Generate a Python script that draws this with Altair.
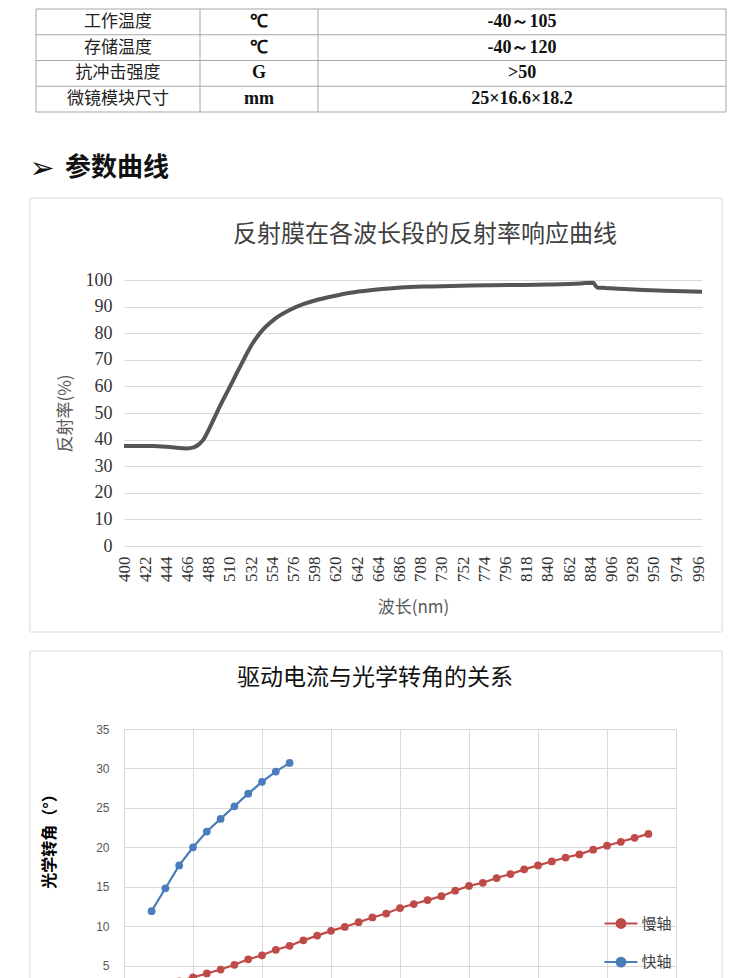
import altair as alt
import pandas as pd

# ---------------- table data ----------------
tbl_names = ["工作温度", "存储温度", "抗冲击强度", "微镜模块尺寸"]
tbl_units = ["℃", "℃", "G", "mm"]
tbl_values = ["-40～105", "-40～120", ">50", "25×16.6×18.2"]

# ---------------- reflectance curve ----------------
wavelength = [400, 430, 450, 465, 473, 478, 482, 489, 496, 503, 510, 517, 524, 532,
              541, 556, 572, 586, 600, 618, 635, 660, 687, 720, 760, 800, 840, 874,
              887, 891, 900, 929, 960, 1000]
reflectance = [37.6, 37.6, 37.1, 36.7, 37.2, 38.3, 39.8, 44.5, 49.9, 55.0, 59.9, 65.0,
               69.9, 75.3, 80.0, 85.2, 88.7, 90.9, 92.5, 94.0, 95.2, 96.3, 97.2, 97.6,
               97.9, 98.1, 98.3, 98.7, 99.0, 97.2, 97.0, 96.4, 96.0, 95.6]
wl_ticks = [400, 422, 444, 466, 488, 510, 532, 554, 576, 598, 620, 642, 664, 686, 708,
            730, 752, 774, 796, 818, 840, 862, 884, 906, 928, 950, 974, 996]

# ---------------- current vs angle ----------------
fast_x = [8, 12, 16, 20, 24, 28, 32, 36, 40, 44, 48]
fast_y = [11.9, 14.8, 17.7, 20.0, 22.0, 23.6, 25.2, 26.8, 28.3, 29.6, 30.7]
slow_x = [16, 20, 24, 28, 32, 36, 40, 44, 48, 52, 56, 60, 64, 68, 72, 76, 80, 84, 88,
          92, 96, 100, 104, 108, 112, 116, 120, 124, 128, 132, 136, 140, 144, 148, 152]
slow_y = [3.0, 3.5, 4.0, 4.5, 5.1, 5.8, 6.3, 7.0, 7.5, 8.2, 8.8, 9.4, 9.9, 10.5, 11.1,
          11.6, 12.3, 12.8, 13.3, 13.8, 14.5, 15.1, 15.5, 16.1, 16.6, 17.2, 17.7, 18.2,
          18.7, 19.1, 19.7, 20.2, 20.7, 21.2, 21.7]

CJK = "Noto Sans CJK SC"
SERIF = "Liberation Serif"
one = alt.Data(values=[{"k": 0}])

# all panels share a plot origin at page x = 124; boxes reach page x 29..727
L, R = -95, 603


def box(x1, x2, y1, y2, stroke=None):
    """frame / layout rectangle in the pixel space of a panel"""
    if stroke:
        m = alt.Chart(one).mark_rect(fill="white", fillOpacity=0, stroke=stroke, strokeWidth=1)
    else:
        m = alt.Chart(one).mark_rect(fill="white", fillOpacity=0, strokeWidth=0)
    return m.encode(x=alt.value(x1), x2=alt.value(x2), y=alt.value(y1), y2=alt.value(y2))


def label(text, x, y, **kw):
    return alt.Chart(alt.Data(values=[{"t": text}])).mark_text(**kw).encode(
        x=alt.value(x), y=alt.value(y), text="t:N")


# ---------------- panel A : table ----------------
col_edges = [0, 164, 282, 690]
col_centers = [82, 223, 486]
cells = []
for i in range(len(tbl_names)):
    cells.append({"r": i + 0.5, "c": col_centers[0], "t": tbl_names[i], "kind": "name"})
    cells.append({"r": i + 0.5, "c": col_centers[1], "t": tbl_units[i], "kind": "val"})
    cells.append({"r": i + 0.5, "c": col_centers[2], "t": tbl_values[i], "kind": "val"})
cells = pd.DataFrame(cells)
hl = pd.DataFrame({"r": list(range(len(tbl_names) + 1)), "c1": 0, "c2": 690})
vl = pd.DataFrame({"c": col_edges, "r1": 0, "r2": len(tbl_names)})

xs = alt.Scale(domain=[88, 690], nice=False, zero=False)
ys = alt.Scale(domain=[len(tbl_names), 0], nice=False, zero=False)

t_h = alt.Chart(hl).mark_rule(color="#a6a6a6", strokeWidth=1).encode(
    x=alt.X("c1:Q", scale=xs, axis=None), x2="c2:Q", y=alt.Y("r:Q", scale=ys, axis=None))
t_v = alt.Chart(vl).mark_rule(color="#a6a6a6", strokeWidth=1).encode(
    x=alt.X("c:Q", scale=xs, axis=None), y=alt.Y("r1:Q", scale=ys, axis=None), y2="r2:Q")
t_name = alt.Chart(cells).transform_filter(alt.datum.kind == "name").mark_text(
    font=CJK, fontSize=17, color="#222222", baseline="middle").encode(
    x=alt.X("c:Q", scale=xs, axis=None), y=alt.Y("r:Q", scale=ys, axis=None), text="t:N")
t_val = alt.Chart(cells).transform_filter(alt.datum.kind == "val").mark_text(
    font=SERIF, fontSize=18, fontWeight="bold", color="#111111", baseline="middle").encode(
    x=alt.X("c:Q", scale=xs, axis=None), y=alt.Y("r:Q", scale=ys, axis=None), text="t:N")
panelA = alt.layer(box(L, R, -1, 104), t_h, t_v, t_name, t_val).properties(width=602, height=103)

# ---------------- panel B : heading ----------------
arrow = label("➢", -82, 56, font="DejaVu Sans", fontSize=30, color="#111111",
              align="center", baseline="middle")
htxt = label("参数曲线", -59, 55, font=CJK, fontSize=26, fontWeight="bold", color="#111111",
             align="left", baseline="middle")
panelB = alt.layer(box(L, R, 0, 84), arrow, htxt).properties(width=602, height=84)

# ---------------- panel C : reflectance ----------------
refl_df = pd.DataFrame({"wl": wavelength, "r": reflectance})
line1 = alt.Chart(refl_df).mark_line(color="#555555", strokeWidth=4, interpolate="monotone").encode(
    x=alt.X("wl:Q", scale=alt.Scale(domain=[400, 1000], nice=False, zero=False),
            axis=alt.Axis(values=wl_ticks, format="d", labelAngle=270, labelFont=SERIF,
                          labelFontSize=17, labelColor="#333333", labelPadding=10,
                          labelOverlap=False, labelFlush=False, grid=False, domain=False,
                          ticks=False, title="波长(nm)", titleFont=CJK, titleFontSize=17,
                          titleFontWeight="normal", titleColor="#595959", titleY=61,
                          titleBaseline="middle")),
    y=alt.Y("r:Q", scale=alt.Scale(domain=[0, 100], nice=False),
            axis=alt.Axis(values=list(range(0, 101, 10)), labelFont=SERIF, labelFontSize=18,
                          labelColor="#333333", labelPadding=12, grid=True,
                          gridColor="#d9d9d9", domain=False, ticks=False,
                          title="反射率(%)", titleFont=CJK, titleFontSize=17,
                          titleFontWeight="normal", titleColor="#595959", titleX=-59,
                          titleY=133, titleAngle=270, titleAlign="center",
                          titleBaseline="middle")),
)
title1 = label("反射膜在各波长段的反射率响应曲线", 301, -45, font=CJK, fontSize=24,
               color="#404040", align="center", baseline="middle")
panelC = alt.layer(box(L, R, -83, 370), box(-94, 598, -82, 352, "#d9d9d9"), title1, line1).properties(
    width=578, height=266)

# ---------------- panel D : current vs angle ----------------
ang_df = pd.concat([
    pd.DataFrame({"i": slow_x, "a": slow_y, "s": "慢轴"}),
    pd.DataFrame({"i": fast_x, "a": fast_y, "s": "快轴"}),
])
sym = "M-1,0L1,0M-0.27,0A0.27,0.27,0,1,1,0.27,0A0.27,0.27,0,1,1,-0.27,0Z"
line2 = alt.Chart(ang_df).mark_line(strokeWidth=2.2, point=alt.OverlayMarkDef(filled=True, size=60)).encode(
    x=alt.X("i:Q", scale=alt.Scale(domain=[0, 160], nice=False),
            axis=alt.Axis(values=list(range(0, 161, 20)), grid=True, gridColor="#d9d9d9",
                          domain=False, ticks=False, labelFont="Liberation Sans",
                          labelFontSize=12, labelColor="#595959", title=None)),
    y=alt.Y("a:Q", scale=alt.Scale(domain=[0, 35], nice=False),
            axis=alt.Axis(values=list(range(0, 36, 5)), grid=True, gridColor="#d9d9d9",
                          domain=False, ticks=False, labelFont="Liberation Sans",
                          labelFontSize=12, labelColor="#595959", labelPadding=15,
                          title="光学转角（°）", titleFont=CJK, titleFontSize=16,
                          titleFontWeight="bold", titleColor="#000000", titleX=-75,
                          titleY=108, titleAngle=270, titleAlign="center",
                          titleBaseline="middle")),
    color=alt.Color("s:N", scale=alt.Scale(domain=["慢轴", "快轴"], range=["#BE4B48", "#4A7EBB"]),
                    legend=alt.Legend(title=None, orient="none", legendX=479.5, legendY=177,
                                      symbolType=sym, symbolSize=1089, symbolStrokeWidth=2,
                                      labelFont=CJK, labelFontSize=15, labelColor="#404040",
                                      rowPadding=12.6, labelOffset=3, padding=0)),
    order="i:Q",
)
title2 = label("驱动电流与光学转角的关系", 251, -51, font=CJK, fontSize=23,
               color="#111111", align="center", baseline="middle")
panelD = alt.layer(box(L, R, -79, 340), box(-94, 598, -78, 330, "#d9d9d9"), title2, line2).properties(
    width=552, height=276)

chart = alt.vconcat(panelA, panelB, panelC, panelD, spacing=0).resolve_legend(
    color="independent").properties(
    padding={"left": 21, "top": 0, "right": 5, "bottom": 5},
    background="white",
).configure_view(stroke=None)

chart.save("out.html", embed_options={"renderer": "svg", "actions": False})
